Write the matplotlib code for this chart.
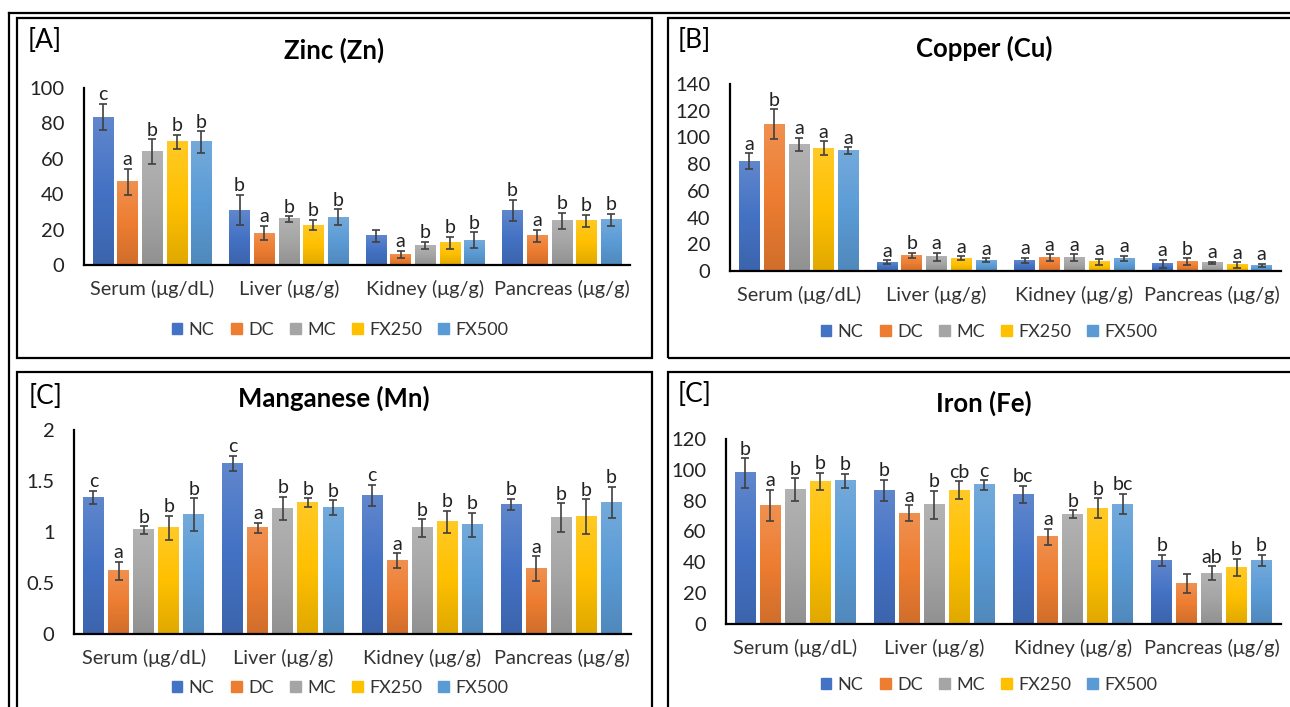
import numpy as np
import matplotlib
matplotlib.use('Agg')
import matplotlib.pyplot as plt
from matplotlib.patches import Rectangle
from matplotlib.lines import Line2D
from matplotlib.colors import LinearSegmentedColormap, to_rgb

plt.rcParams['font.family'] = ['Lato', 'DejaVu Sans']

W, H = 1290, 707

groups = ['NC', 'DC', 'MC', 'FX250', 'FX500']
colors = ['#4472C4', '#ED7D31', '#A5A5A5', '#FFC000', '#5B9BD5']
tissues = ['Serum (μg/dL)', 'Liver (μg/g)', 'Kidney (μg/g)', 'Pancreas (μg/g)']

# rows = tissue, columns = group
zn_mean = [[83.5, 47, 64, 69.5, 69.5], [31, 18, 26, 22.5, 27], [16.5, 6, 11, 12.5, 14], [31, 16.5, 25, 25, 25.5]]
zn_err = [[7.5, 7.5, 7, 4, 6], [8.5, 4, 1.5, 3, 4.5], [3.5, 2, 2, 3.3, 4.5], [6, 3.5, 4.6, 3.5, 3.5]]
zn_letters = [['c', 'a', 'b', 'b', 'b'], ['b', 'a', 'b', 'b', 'b'], ['', 'a', 'b', 'b', 'b'], ['b', 'a', 'b', 'b', 'b']]

cu_mean = [[82, 110, 94.5, 92, 90], [6.5, 11.5, 10.5, 9.5, 8], [8, 10, 10, 7, 9.5], [5.5, 7, 6, 4.5, 4.2]]
cu_err = [[6, 11, 5, 5, 2.5], [1.5, 2, 3, 1.5, 1.5], [1.8, 2.5, 2.5, 2.3, 2], [3, 2.5, 0.7, 2, 1]]
cu_letters = [['a', 'b', 'a', 'a', 'a'], ['a', 'b', 'a', 'a', 'a'], ['a', 'a', 'a', 'a', 'a'], ['a', 'b', 'a', 'a', 'a']]

mn_mean = [[1.34, 0.62, 1.02, 1.04, 1.17], [1.67, 1.04, 1.23, 1.29, 1.24], [1.36, 0.72, 1.04, 1.10, 1.07], [1.27, 0.64, 1.14, 1.15, 1.29]]
mn_err = [[0.065, 0.09, 0.035, 0.12, 0.16], [0.075, 0.05, 0.115, 0.04, 0.07], [0.105, 0.07, 0.085, 0.105, 0.115], [0.055, 0.12, 0.14, 0.17, 0.15]]
mn_letters = [['c', 'a', 'b', 'b', 'b'], ['c', 'a', 'b', 'b', 'b'], ['c', 'a', 'b', 'b', 'b'], ['b', 'a', 'b', 'b', 'b']]

fe_mean = [[98, 77, 87, 92.3, 93], [86.7, 71.8, 77.4, 86.7, 90.2], [84, 56.6, 71.1, 75.2, 77.8], [41.3, 26.4, 32.9, 36.8, 41.3]]
fe_err = [[9.5, 10, 7.5, 5.6, 4.5], [7, 5.2, 9, 5.8, 3], [5.8, 5.2, 2.6, 6.3, 6.5], [3.5, 6.3, 4.5, 5.4, 3.5]]
fe_letters = [['b', 'a', 'b', 'b', 'b'], ['b', 'a', 'b', 'cb', 'c'], ['bc', 'a', 'b', 'b', 'bc'], ['b', '', 'ab', 'b', 'b']]


def px_rect(x0, y0, x1, y1):
    # pixel box (top-left origin) -> figure fraction [left, bottom, w, h]
    return [x0 / W, 1 - y1 / H, (x1 - x0) / W, (y1 - y0) / H]


def shade(c, f):
    r = np.array(to_rgb(c))
    if f > 0:
        return tuple(r + (1 - r) * f)
    return tuple(r * (1 + f))


def draw_panel(ax, means, errs, letters, ymax, step, ticklabels):
    means = np.array(means)
    errs = np.array(errs)
    x = np.arange(len(tissues))
    pitch, width = 0.18, 0.15
    grad = np.linspace(0, 1, 64).reshape(-1, 1)
    for j, g in enumerate(groups):
        xs = x + (j - 2) * pitch
        bars = ax.bar(xs, means[:, j], width, color=colors[j], label=g, zorder=2)
        cmap = LinearSegmentedColormap.from_list(
            g, [shade(colors[j], -0.12), colors[j], shade(colors[j], 0.15)])
        for b in bars:
            ax.imshow(grad, extent=[b.get_x(), b.get_x() + width, 0, b.get_height()],
                      origin='lower', cmap=cmap, aspect='auto', zorder=2.5,
                      interpolation='bilinear')
        ax.errorbar(xs, means[:, j], yerr=errs[:, j], fmt='none', ecolor='#404040',
                    elinewidth=1.2, capsize=3, capthick=1.2, zorder=4)
        for xi, m, e, lab in zip(xs, means[:, j], errs[:, j], [r[j] for r in letters]):
            ax.annotate(lab, (xi, m + e), xytext=(0, 0.5), textcoords='offset points',
                        ha='center', va='bottom', fontsize=14, color='#222222')
    ax.set_xlim(-0.5, len(tissues) - 0.5)
    ax.set_ylim(0, ymax)
    ax.set_yticks(np.arange(0, ymax + step / 2, step))
    ax.set_yticklabels(ticklabels)
    ax.set_xticks(x)
    ax.set_xticklabels(tissues)
    for s in ['top', 'right']:
        ax.spines[s].set_visible(False)
    for s in ['left', 'bottom']:
        ax.spines[s].set_linewidth(1.6)
        ax.spines[s].set_color('black')
    ax.tick_params(axis='y', length=0, pad=14, labelsize=14.5, labelcolor='#222222')
    ax.tick_params(axis='x', length=0, pad=11, labelsize=14.3, labelcolor='#333333')
    ax.set_facecolor('none')


fig = plt.figure(figsize=(W / 100, H / 100), dpi=100)

# outer frame and panel boxes
fig.add_artist(Line2D([9 / W, 1], [1 - 12.5 / H] * 2, transform=fig.transFigure, color='black', lw=1.6))
fig.add_artist(Line2D([9 / W] * 2, [0, 1 - 12.5 / H], transform=fig.transFigure, color='black', lw=1.6))
for box in [(17, 18, 652, 358), (668, 18, 1300, 358), (17, 372, 652, 720), (668, 372, 1300, 720)]:
    l, b, w, h = px_rect(*box)
    fig.add_artist(Rectangle((l, b), w, h, transform=fig.transFigure, fill=False,
                             edgecolor='black', lw=1.6))

panels = [
    dict(rect=(84, 88, 630, 265), data=(zn_mean, zn_err, zn_letters), ymax=100, step=20,
         ticks=['0', '20', '40', '60', '80', '100'],
         title='Zinc (Zn)', tpos=(334, 50), tag='[A]', gpos=(28, 41), leg=(340, 330)),
    dict(rect=(730, 84, 1281, 271), data=(cu_mean, cu_err, cu_letters), ymax=140, step=20,
         ticks=['0', '20', '40', '60', '80', '100', '120', '140'],
         title='Copper (Cu)', tpos=(984, 48), tag='[B]', gpos=(678, 41), leg=(989, 332)),
    dict(rect=(74, 430, 631, 634), data=(mn_mean, mn_err, mn_letters), ymax=2, step=0.5,
         ticks=['0', '0.5', '1', '1.5', '2'],
         title='Manganese (Mn)', tpos=(334, 398), tag='[C]', gpos=(29, 397), leg=(340, 688)),
    dict(rect=(726, 439, 1281, 624), data=(fe_mean, fe_err, fe_letters), ymax=120, step=20,
         ticks=['0', '20', '40', '60', '80', '100', '120'],
         title='Iron (Fe)', tpos=(984, 403), tag='[C]', gpos=(678, 394), leg=(989, 685)),
]

for p in panels:
    ax = fig.add_axes(px_rect(*p['rect']))
    draw_panel(ax, *p['data'], p['ymax'], p['step'], p['ticks'])
    fig.text(p['tpos'][0] / W, 1 - p['tpos'][1] / H, p['title'], ha='center', va='center',
             fontsize=18.5, fontweight='bold', color='black')
    fig.text(p['gpos'][0] / W, 1 - p['gpos'][1] / H, p['tag'], ha='left', va='center',
             fontsize=19, color='black')
    handles = [Rectangle((0, 0), 1, 1, color=c) for c in colors]
    fig.legend(handles, groups, loc='center', ncol=5, frameon=False,
               bbox_to_anchor=(p['leg'][0] / W, 1 - p['leg'][1] / H),
               fontsize=13, handlelength=0.6, handleheight=0.6,
               handletextpad=0.35, columnspacing=0.9, labelcolor='#333333')

fig.savefig('out.png', dpi=100, facecolor='white')
